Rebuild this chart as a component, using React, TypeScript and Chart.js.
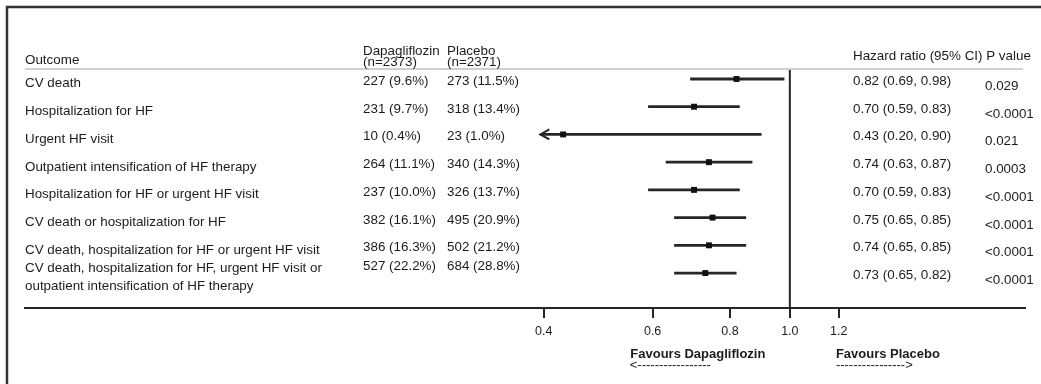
import React, { useEffect, useRef } from 'react';
import { Chart, registerables } from 'chart.js';

Chart.register(...registerables);

// ---------- data ----------
const OUTCOMES: string[][] = [
  ['CV death'],
  ['Hospitalization for HF'],
  ['Urgent HF visit'],
  ['Outpatient intensification of HF therapy'],
  ['Hospitalization for HF or urgent HF visit'],
  ['CV death or hospitalization for HF'],
  ['CV death, hospitalization for HF or urgent HF visit'],
  ['CV death, hospitalization for HF, urgent HF visit or', 'outpatient intensification of HF therapy'],
];
const DAPA_EVENTS = [227, 231, 10, 264, 237, 382, 386, 527];
const DAPA_PCT = [9.6, 9.7, 0.4, 11.1, 10.0, 16.1, 16.3, 22.2];
const PLACEBO_EVENTS = [273, 318, 23, 340, 326, 495, 502, 684];
const PLACEBO_PCT = [11.5, 13.4, 1.0, 14.3, 13.7, 20.9, 21.2, 28.8];
const HR = [0.82, 0.7, 0.43, 0.74, 0.7, 0.75, 0.74, 0.73];
const CI_LOW = [0.69, 0.59, 0.2, 0.63, 0.59, 0.65, 0.65, 0.65];
const CI_HIGH = [0.98, 0.83, 0.9, 0.87, 0.83, 0.85, 0.85, 0.82];
const P_VALUES = ['0.029', '<0.0001', '0.021', '0.0003', '<0.0001', '<0.0001', '<0.0001', '<0.0001'];
const X_TICKS = [0.4, 0.6, 0.8, 1.0, 1.2];
const HEADER_DAPA = ['Dapagliflozin', '(n=2373)'];
const HEADER_PLACEBO = ['Placebo', '(n=2371)'];
const FAVOURS_LEFT = 'Favours Dapagliflozin';
const FAVOURS_RIGHT = 'Favours Placebo';
const ARROW_LEFT = '<-----------------';
const ARROW_RIGHT = '---------------->';

// axis range (log) and display clip for long intervals
const X_MIN = 0.058;
const X_MAX = 2.4;
const CLIP_MIN = 0.395;

const FONT = '"Liberation Sans", Arial, Helvetica, sans-serif';
const TEXT = '#1c1c1c';
const INK = '#262626';

export default function App() {
  const ref = useRef<HTMLCanvasElement>(null);

  useEffect(() => {
    if (!ref.current) return;
    document.body.style.margin = '0';

    const ciDatasets = HR.map((_, i) => ({
      type: 'line' as const,
      data: [
        { x: Math.max(CI_LOW[i], CLIP_MIN), y: i },
        { x: CI_HIGH[i], y: i },
      ],
      borderColor: INK,
      borderWidth: 2.8,
      pointRadius: 0,
      order: 2,
    }));

    const pointDataset = {
      type: 'scatter' as const,
      data: HR.map((v, i) => ({ x: v, y: i })),
      pointStyle: 'rect',
      pointRadius: 4.2,
      backgroundColor: '#111',
      borderWidth: 0,
      order: 1,
    };

    const tablePlugin = {
      id: 'forestTable',
      beforeDatasetsDraw(chart: any) {
        const { ctx, chartArea, scales } = chart;
        const px = scales.x.getPixelForValue(1);
        ctx.save();
        ctx.strokeStyle = INK;
        ctx.lineWidth = 2;
        ctx.beginPath();
        ctx.moveTo(px, chartArea.top);
        ctx.lineTo(px, chartArea.bottom);
        ctx.stroke();
        ctx.restore();
      },
      afterDatasetsDraw(chart: any) {
        const { ctx, scales } = chart;
        // arrowheads for clipped intervals
        ctx.save();
        ctx.strokeStyle = INK;
        ctx.lineWidth = 2;
        HR.forEach((_, i) => {
          if (CI_LOW[i] < CLIP_MIN) {
            const ax = scales.x.getPixelForValue(CLIP_MIN);
            const ay = scales.y.getPixelForValue(i);
            ctx.beginPath();
            ctx.moveTo(ax + 9, ay - 5);
            ctx.lineTo(ax, ay);
            ctx.lineTo(ax + 9, ay + 5);
            ctx.stroke();
          }
        });
        ctx.restore();
      },
      afterDraw(chart: any) {
        const { ctx, chartArea, scales } = chart;
        const W = chart.width;
        const H = chart.height;
        ctx.save();

        // frame (left + top)
        ctx.strokeStyle = '#333';
        ctx.lineWidth = 2.5;
        ctx.beginPath();
        ctx.moveTo(7, H);
        ctx.lineTo(7, 7);
        ctx.lineTo(W, 7);
        ctx.stroke();

        // header separator
        ctx.strokeStyle = '#cfcfcf';
        ctx.lineWidth = 2;
        ctx.beginPath();
        ctx.moveTo(chartArea.left, chartArea.top);
        ctx.lineTo(chartArea.right - 2, chartArea.top);
        ctx.stroke();

        ctx.fillStyle = TEXT;
        ctx.font = `13.4px ${FONT}`;
        ctx.textBaseline = 'alphabetic';
        ctx.textAlign = 'left';

        const COL_OUT = chartArea.left;
        const COL_DAPA = 363;
        const COL_PLAC = 447;
        const COL_HR = 853;
        const COL_P = 985;

        // headers
        ctx.fillText('Outcome', COL_OUT, 64);
        ctx.fillText(HEADER_DAPA[0], COL_DAPA, 55);
        ctx.fillText(HEADER_DAPA[1], COL_DAPA, 66);
        ctx.fillText(HEADER_PLACEBO[0], COL_PLAC, 55);
        ctx.fillText(HEADER_PLACEBO[1], COL_PLAC, 66);
        ctx.fillText('Hazard ratio (95% CI) P value', COL_HR, 60);

        // rows
        HR.forEach((hr, i) => {
          const ry = scales.y.getPixelForValue(i);
          const lines = OUTCOMES[i];
          if (lines.length === 1) {
            ctx.fillText(lines[0], COL_OUT, ry + 8.5);
          } else {
            lines.forEach((line, k) => ctx.fillText(line, COL_OUT, ry - 1.5 + k * 18));
          }
          const cy = lines.length === 1 ? ry + 6 : ry - 3;
          ctx.fillText(`${DAPA_EVENTS[i]} (${DAPA_PCT[i].toFixed(1)}%)`, COL_DAPA, cy);
          ctx.fillText(`${PLACEBO_EVENTS[i]} (${PLACEBO_PCT[i].toFixed(1)}%)`, COL_PLAC, cy);
          ctx.fillText(`${hr.toFixed(2)} (${CI_LOW[i].toFixed(2)}, ${CI_HIGH[i].toFixed(2)})`, COL_HR, ry + 6);
          ctx.fillText(P_VALUES[i], COL_P, ry + 11);
        });

        // favours labels
        const xs = scales.x;
        ctx.font = `bold 13px ${FONT}`;
        ctx.textAlign = 'center';
        ctx.fillText(FAVOURS_LEFT, xs.getPixelForValue(0.71), 358);
        ctx.textAlign = 'left';
        ctx.fillText(FAVOURS_RIGHT, xs.getPixelForValue(1.187), 358);
        ctx.font = `13px ${FONT}`;
        ctx.fillText(ARROW_LEFT, xs.getPixelForValue(0.551), 369);
        ctx.fillText(ARROW_RIGHT, xs.getPixelForValue(1.187), 369);

        ctx.restore();
      },
    };

    const chart = new Chart(ref.current, {
      type: 'scatter',
      data: { datasets: [...ciDatasets, pointDataset] as any },
      options: {
        animation: false,
        responsive: false,
        devicePixelRatio: 1,
        layout: { padding: { left: 25, right: 16, top: 69, bottom: 0 } },
        plugins: { legend: { display: false }, tooltip: { enabled: false } },
        scales: {
          x: {
            type: 'logarithmic',
            min: X_MIN,
            max: X_MAX,
            afterBuildTicks: (scale: any) => {
              scale.ticks = X_TICKS.map((v) => ({ value: v }));
            },
            afterFit: (scale: any) => {
              scale.height = 76;
            },
            ticks: {
              autoSkip: false,
              maxRotation: 0,
              padding: 6,
              color: TEXT,
              font: { family: FONT, size: 12.5 },
              callback: (v: any) => Number(v).toFixed(1),
            },
            grid: {
              drawOnChartArea: false,
              drawTicks: true,
              tickLength: 10,
              color: INK,
              lineWidth: 2,
            },
            border: { display: true, color: INK, width: 2 },
          },
          y: {
            type: 'linear',
            reverse: true,
            min: -0.36,
            max: 8.26,
            display: false,
          },
        },
      },
      plugins: [tablePlugin],
    });

    return () => chart.destroy();
  }, []);

  return (
    <div style={{ position: 'absolute', left: 0, top: 0, width: 1041, height: 384, background: '#fff' }}>
      <canvas ref={ref} width={1041} height={384} />
    </div>
  );
}
